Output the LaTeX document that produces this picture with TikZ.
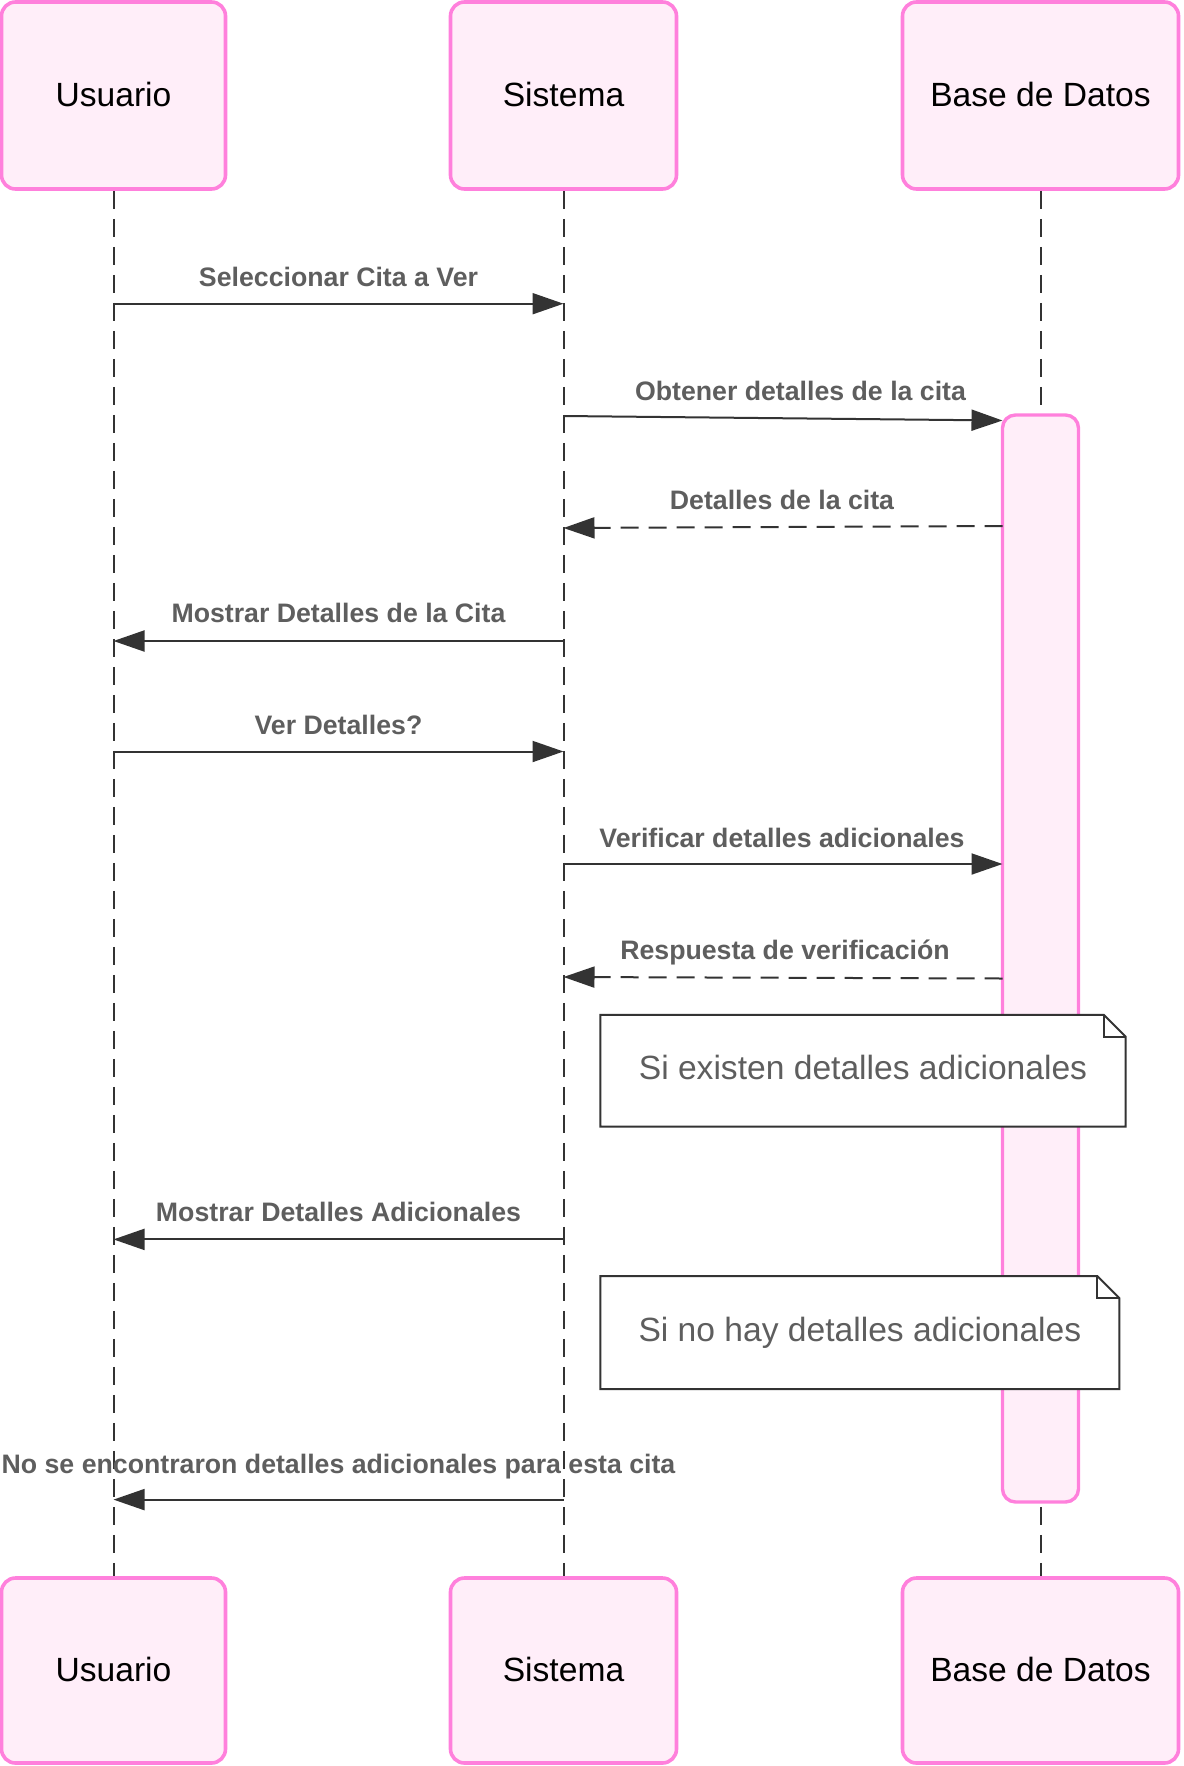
\documentclass[tikz,border=0pt]{standalone}
\usepackage{fontspec}
\setmainfont{Liberation Sans}
\usetikzlibrary{arrows.meta,calc}
\definecolor{pinkline}{HTML}{FF80DC}
\definecolor{pinkfill}{HTML}{FFEEF9}
\definecolor{lblgray}{HTML}{5E5E5E}
\definecolor{darkline}{HTML}{333333}
\begin{document}
\begin{tikzpicture}[x=1pt,y=-1pt,
  actor/.style={draw=pinkline, fill=pinkfill, line width=3.6pt, rounded corners=14pt,
    inner sep=0pt, font=\fontsize{33.6}{40}\selectfont, text=black,
    text height=29.6pt, text depth=8.4pt},
  actbar/.style={draw=pinkline, fill=pinkfill, line width=3.4pt, rounded corners=13pt,
    minimum width=76pt, minimum height=1087pt, inner sep=0pt},
  life/.style={draw=darkline, line width=2pt, dash pattern=on 18pt off 10pt},
  msg/.style={draw=darkline, line width=2pt, -{Triangle[length=31pt,width=21pt]}},
  ret/.style={msg, dash pattern=on 18pt off 10pt},
  lbl/.style={font=\bfseries\fontsize{26.7}{30}\selectfont, text=lblgray, anchor=base, inner sep=0pt},
  noteshape/.style={inner sep=0pt},
  notetext/.style={inner sep=0pt, font=\fontsize{33.6}{40}\selectfont, text=lblgray,
    text height=25.2pt, text depth=8.4pt},
  noteline/.style={draw=darkline, line width=2pt, fill=white, line join=miter}
]
\useasboundingbox (0,0) rectangle (1183,1766);

% actor boxes
\node[actor, minimum width=224pt, minimum height=187pt] (uT) at (113.5,95.5) {Usuario};
\node[actor, minimum width=226pt, minimum height=187pt] (sT) at (563.5,95.5) {Sistema};
\node[actor, minimum width=276pt, minimum height=187pt] (dT) at (1040.5,95.5) {Base de Datos};
\node[actor, minimum width=224pt, minimum height=185pt] (uB) at (113.5,1670.5) {Usuario};
\node[actor, minimum width=226pt, minimum height=185pt] (sB) at (563.5,1670.5) {Sistema};
\node[actor, minimum width=276pt, minimum height=185pt] (dB) at (1040.5,1670.5) {Base de Datos};

% lifelines
\draw[life] (uT.south) -- (uB.north);
\draw[life] (sT.south) -- (sB.north);
\draw[life] (dT.south) -- (dB.north);

% activation bar
\node[actbar] (act) at (1040.5,958.5) {};

% message end points
\coordinate (m1a) at (113.5,303.7);  \coordinate (m1b) at (563.5,303.7);
\coordinate (m2a) at (563.5,416);    \coordinate (m2b) at (1002.5,420.5);
\coordinate (m3a) at (1002.5,526);   \coordinate (m3b) at (563.5,528);
\coordinate (m4a) at (563.5,641);    \coordinate (m4b) at (113.5,641);
\coordinate (m5a) at (113.5,751.5);  \coordinate (m5b) at (563.5,751.5);
\coordinate (m6a) at (563.5,864);    \coordinate (m6b) at (1002.5,864);
\coordinate (m7a) at (1002.5,978.5); \coordinate (m7b) at (563.5,977);
\coordinate (m9a) at (563.5,1239.4); \coordinate (m9b) at (113.5,1239.4);
\coordinate (m11a) at (563.5,1499.6); \coordinate (m11b) at (113.5,1499.6);

% messages
\draw[msg] (m1a) -- (m1b);
\draw[msg] (m2a) -- (m2b);
\draw[ret] (m3a) -- (m3b);
\draw[msg] (m4a) -- (m4b);
\draw[msg] (m5a) -- (m5b);
\draw[msg] (m6a) -- (m6b);
\draw[ret] (m7a) -- (m7b);
\draw[msg] (m9a) -- (m9b);
\draw[msg] (m11a) -- (m11b);

% labels
\node[lbl] (l1) at (338.5,286) {Seleccionar Cita a Ver};
\node[lbl] (l2) at (800.5,400.5) {Obtener detalles de la cita};
\node[lbl] (l3) at (782,509.5) {Detalles de la cita};
\node[lbl] (l4) at (338.5,622.5) {Mostrar Detalles de la Cita};
\node[lbl] (l5) at (338.5,734.5) {Ver Detalles?};
\node[lbl] (l6) at (782,847) {Verificar detalles adicionales};
\node[lbl] (l7) at (785,959.5) {Respuesta de verificación};
\node[lbl] (l9) at (338.5,1221) {Mostrar Detalles Adicionales};
\node[lbl] (l11) at (338.5,1473.5) {No se encontraron detalles adicionales para esta cita};

% notes
\node[noteshape, minimum width=525pt, minimum height=111.5pt] (n1) at (863,1070.7) {};
\draw[noteline] (n1.north west) -- ($(n1.north east)+(-22,0)$) -- ($(n1.north east)+(0,22)$)
  -- (n1.south east) -- (n1.south west) -- cycle;
\draw[noteline, fill=none] ($(n1.north east)+(-22,0)$) -- ($(n1.north east)+(-22,22)$) -- ($(n1.north east)+(0,22)$);
\node[notetext] (n1t) at (n1.center) {Si existen detalles adicionales};

\node[noteshape, minimum width=518.7pt, minimum height=112.6pt] (n2) at (859.9,1332.7) {};
\draw[noteline] (n2.north west) -- ($(n2.north east)+(-22,0)$) -- ($(n2.north east)+(0,22)$)
  -- (n2.south east) -- (n2.south west) -- cycle;
\draw[noteline, fill=none] ($(n2.north east)+(-22,0)$) -- ($(n2.north east)+(-22,22)$) -- ($(n2.north east)+(0,22)$);
\node[notetext] (n2t) at (n2.center) {Si no hay detalles adicionales};
\end{tikzpicture}
\end{document}
